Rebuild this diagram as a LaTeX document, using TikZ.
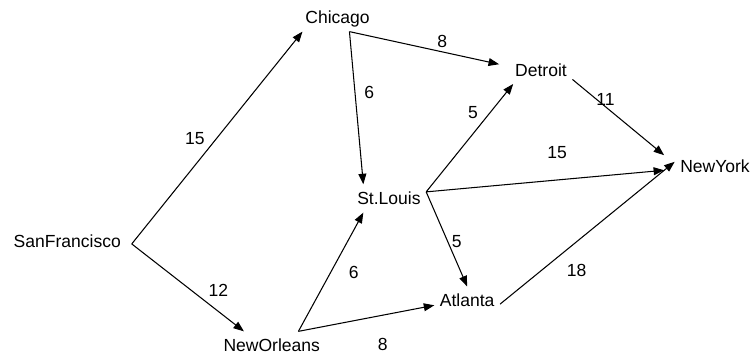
\documentclass[tikz,border=0pt]{standalone}
\usepackage{fontspec}
\setmainfont{Liberation Sans}
\usetikzlibrary{positioning,arrows.meta}

\begin{document}
\begin{tikzpicture}[
				city/.style={rectangle, inner sep=3pt, text height=1.6ex, text depth=.25ex},
				cost/.style={inner sep=2pt},
				road/.style={semithick, -{Triangle[length=6pt, width=4.5pt]}},
				on grid
			]
			\node[city] (sf) {SanFrancisco};
			\node[city] (chicago) [above right=4.48cm and 5.42cm of sf] {Chicago};
			\node[city] (neworleans) [below right=2.1cm and 4.1cm of sf] {NewOrleans};
			\node[city] (stlouis) [below right=3.63cm and 1.03cm of chicago] {St.Louis};
			\node[city] (detroit) [below right=1.05cm and 4.08cm of chicago] {Detroit};
			\node[city] (atlanta) [above right=0.9cm and 3.92cm of neworleans] {Atlanta};
			\node[city] (newyork) [below right=1.93cm and 3.49cm of detroit] {NewYork};
			\useasboundingbox (-1.35,-2.35) rectangle (13.75,4.83);
			\begin{scope}[road]
			% out of San Francisco
			\draw ([xshift=3pt]sf.-3) -- (chicago.-158) node[cost, pos=0.45, above left] {15};
			\draw ([xshift=3pt]sf.-3) -- (neworleans.153) node[cost, pos=0.65, above right] {12};
			% out of Chicago
			\draw (chicago.-50) -- ([xshift=-6pt]detroit.170) node[cost, pos=0.62, above] {8};
			\draw (chicago.-50) -- (stlouis.151) node[cost, pos=0.4, right=3pt] {6};
			% out of St. Louis
			\draw (stlouis.10) -- (detroit.-153) node[cost, pos=0.64, above left] {5};
			\draw (stlouis.10) -- ([xshift=-6pt]newyork.186) node[cost, pos=0.55, above=10pt] {15};
			\draw (stlouis.10) -- (atlanta.north) node[cost, pos=0.53, right] {5};
			% out of Detroit
			\draw (detroit.-17) -- ([xshift=-6pt]newyork.165) node[cost, pos=0.36, yshift=4pt] {11};
			% out of New Orleans
			\draw (neworleans.28) -- (stlouis.-151) node[cost, pos=0.5, right=8pt] {6};
			\draw (neworleans.28) -- (atlanta.188) node[cost, pos=0.62, below=11pt] {8};
			% out of Atlanta
			\draw (atlanta.-6) -- (newyork.174) node[cost, pos=0.36, below right, yshift=-4pt] {18};
			\end{scope}
\end{tikzpicture}
\end{document}
